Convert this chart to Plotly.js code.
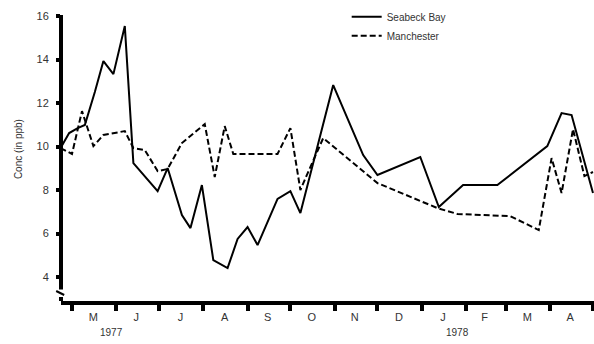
<!DOCTYPE html>
<html>
<head>
<meta charset="utf-8">
<script src="https://cdn.plot.ly/plotly-3.0.1.min.js"></script>
<style>html,body{margin:0;padding:0;background:#fff;}#chart{width:594px;height:344px;}</style>
</head>
<body>
<div id="chart"></div>
<script>
// Seabeck Bay (solid)
const seabeckDates = ["1977-04-23","1977-04-29","1977-05-05","1977-05-10","1977-05-17","1977-05-23","1977-05-30","1977-06-07","1977-06-13","1977-06-30","1977-07-07","1977-07-17","1977-07-23","1977-07-31","1977-08-08","1977-08-18","1977-08-25","1977-09-01","1977-09-08","1977-09-22","1977-10-01","1977-10-08","1977-10-31","1977-11-21","1977-12-01","1977-12-31","1978-01-13","1978-01-30","1978-02-23","1978-03-30","1978-04-09","1978-04-16","1978-05-01"];
const seabeckValues = [9.93,10.62,10.85,10.99,12.51,13.93,13.33,15.54,9.24,7.95,9.01,6.85,6.25,8.23,4.78,4.41,5.75,6.30,5.47,7.59,7.95,6.94,12.83,9.61,8.69,9.52,7.22,8.23,8.23,10.02,11.54,11.45,7.86];
// Manchester (dashed)
const manchesterDates = ["1977-04-23","1977-05-01","1977-05-08","1977-05-16","1977-05-23","1977-06-07","1977-06-13","1977-06-21","1977-06-30","1977-07-07","1977-07-17","1977-08-02","1977-08-09","1977-08-16","1977-08-22","1977-09-22","1977-10-01","1977-10-08","1977-10-11","1977-10-24","1977-12-01","1978-01-12","1978-01-26","1978-03-04","1978-03-24","1978-04-02","1978-04-09","1978-04-17","1978-04-25","1978-05-01"];
const manchesterValues = [9.93,9.66,11.63,10.02,10.53,10.71,9.93,9.84,8.87,8.97,10.16,11.03,8.60,10.94,9.66,9.66,10.85,8.00,8.46,10.39,8.32,7.17,6.90,6.80,6.16,9.47,7.86,10.80,8.64,8.83];
// Axis labels
const monthLabelDates = ["1977-05-16","1977-06-15","1977-07-16","1977-08-16","1977-09-15","1977-10-16","1977-11-15","1977-12-16","1978-01-16","1978-02-14","1978-03-16","1978-04-15"];
const monthLabels = ["M","J","J","A","S","O","N","D","J","F","M","A"];
const yTickValues = [4,6,8,10,12,14,16];
const yTickLabels = ["4","6","8","10","12","14","16"];
const yearLabels = ["1977","1978"];
const yearLabelDates = ["1977-05-29","1978-01-26"];

const FONT = "Liberation Sans, Arial, sans-serif";
const traces = [
  {x: seabeckDates, y: seabeckValues, type: "scatter", mode: "lines", name: "Seabeck Bay",
   line: {color: "#000", width: 2}},
  {x: manchesterDates, y: manchesterValues, type: "scatter", mode: "lines", name: "Manchester",
   line: {color: "#000", width: 2, dash: "6px,3px"}}
];

const annotations = yearLabels.map((t, i) => ({
  text: t, x: yearLabelDates[i], xref: "x", y: -0.11, yref: "paper",
  showarrow: false, xanchor: "center", yanchor: "middle",
  font: {family: FONT, size: 10, color: "#333"}
}));
annotations.push({
  text: "Conc (in ppb)", x: -0.0807, xref: "paper", y: 0.531, yref: "paper",
  textangle: -90, showarrow: false, xanchor: "center", yanchor: "middle",
  font: {family: FONT, size: 10, color: "#333"}
});

const layout = {
  width: 594, height: 344,
  margin: {l: 61, r: 0, t: 15, b: 43, pad: 0},
  paper_bgcolor: "#fff", plot_bgcolor: "#fff",
  showlegend: true,
  legend: {x: 0.536, y: 1.045, xanchor: "left", yanchor: "top",
           font: {family: FONT, size: 10, color: "#333"},
           bgcolor: "rgba(0,0,0,0)", itemwidth: 30, tracegroupgap: 0},
  xaxis: {
    type: "date", range: ["1977-04-23 07:00", "1978-05-01 17:00"],
    tickmode: "array", tickvals: monthLabelDates, ticktext: monthLabels,
    ticks: "", showgrid: false, zeroline: false, ticklabelstandoff: 3,
    showline: true, linewidth: 4, linecolor: "#000",
    tickfont: {family: FONT, size: 11, color: "#333"},
    minor: {tick0: "1977-05-01", dtick: "M1", ticks: "outside", ticklen: 6,
            tickwidth: 4, tickcolor: "#000", showgrid: false}
  },
  yaxis: {
    range: [2.897, 16.05], tickmode: "array", tickvals: yTickValues, ticktext: yTickLabels,
    ticks: "outside", ticklen: 4, tickwidth: 4, tickcolor: "#000", ticklabelstandoff: 5,
    showgrid: false, zeroline: false, showline: false,
    tickfont: {family: FONT, size: 11, color: "#333"}
  },
  annotations: annotations,
  shapes: [
    {type: "line", xref: "paper", yref: "paper", x0: 0, x1: 0, y0: 0.04, y1: 1.0,
     line: {color: "#000", width: 4}, layer: "above"},
    {type: "line", xref: "paper", yref: "paper", x0: -0.009, x1: 0.006, y0: 0.035, y1: 0.021,
     line: {color: "#000", width: 2}, layer: "above"},
    {type: "line", xref: "paper", yref: "paper", x0: 0, x1: 0, y0: 0, y1: 0.014,
     line: {color: "#000", width: 4}, layer: "above"}
  ]
};

Plotly.newPlot("chart", traces, layout, {staticPlot: true, displayModeBar: false});
</script>
</body>
</html>
